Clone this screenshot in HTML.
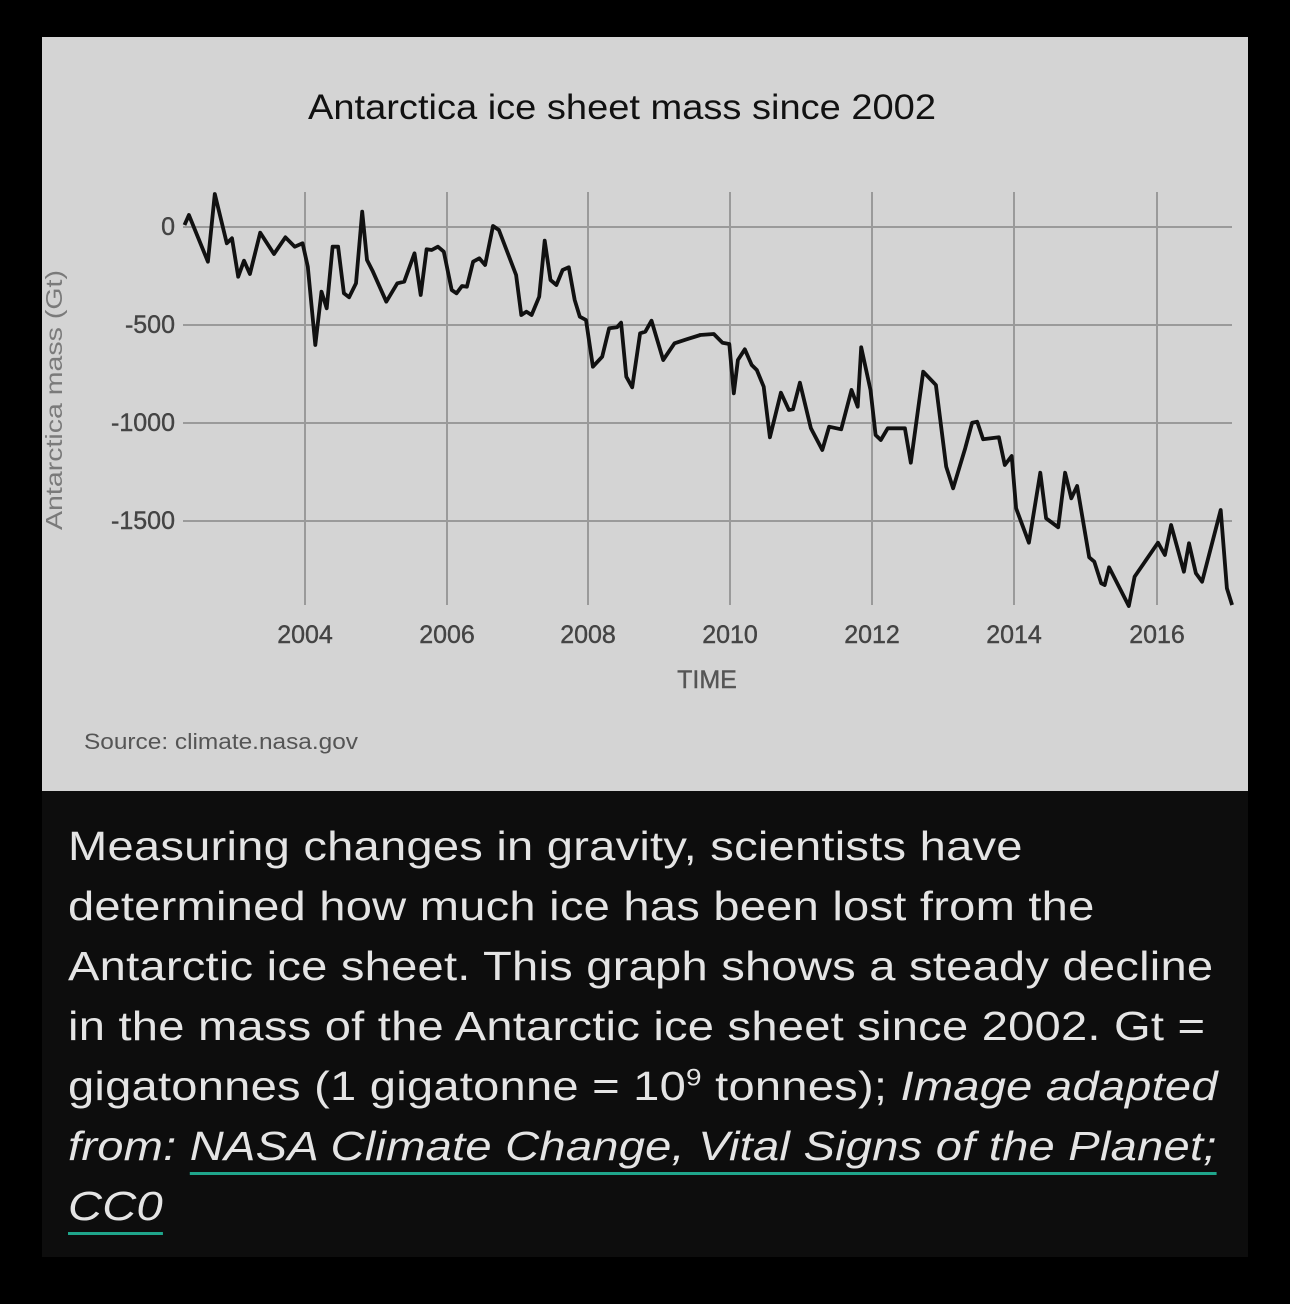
<!DOCTYPE html>
<html><head><meta charset="utf-8"><style>
html,body{margin:0;padding:0;background:#000;}
body{width:1290px;height:1304px;position:relative;overflow:hidden;font-family:"Liberation Sans",sans-serif;}
#panel{position:absolute;left:42px;top:37px;width:1206px;height:1220px;background:#0d0d0d;}
#chart{position:absolute;left:42px;top:37px;width:1206px;height:754px;background:#d4d4d4;}
#cap{position:absolute;left:68px;top:816px;width:1100px;color:#e4e4e4;font-size:40.5px;line-height:60px;letter-spacing:0.2px;transform:scaleX(1.163);transform-origin:0 0;white-space:nowrap;}
#cap i{font-style:italic;}
.u{text-decoration:underline;text-decoration-color:#1fa58b;text-decoration-thickness:3px;text-underline-offset:12px;}
</style></head><body>
<div id="panel"></div>
<div id="chart"></div>
<svg id="sv" width="1290" height="800" style="position:absolute;left:0;top:0">
<text x="308" y="119" textLength="628" lengthAdjust="spacingAndGlyphs" font-family="Liberation Sans, sans-serif" font-size="35" fill="#111">Antarctica ice sheet mass since 2002</text>
<g stroke="#9a9a9a" stroke-width="2">
<line x1="183" y1="227" x2="1232" y2="227"/><line x1="183" y1="325" x2="1232" y2="325"/>
<line x1="183" y1="423" x2="1232" y2="423"/><line x1="183" y1="521" x2="1232" y2="521"/>
<line x1="305" y1="192" x2="305" y2="605"/><line x1="447" y1="192" x2="447" y2="605"/>
<line x1="588" y1="192" x2="588" y2="605"/><line x1="730" y1="192" x2="730" y2="605"/>
<line x1="872" y1="192" x2="872" y2="605"/><line x1="1014" y1="192" x2="1014" y2="605"/>
<line x1="1157" y1="192" x2="1157" y2="605"/>
</g>
<g font-family="Liberation Sans, sans-serif" font-size="25" fill="#444" stroke="#444" stroke-width="0.4" text-anchor="end">
<text x="175" y="235">0</text><text x="175" y="333">-500</text><text x="175" y="431">-1000</text><text x="175" y="529">-1500</text>
</g>
<g font-family="Liberation Sans, sans-serif" font-size="25" fill="#444" stroke="#444" stroke-width="0.4" text-anchor="middle">
<text x="305" y="643">2004</text><text x="447" y="643">2006</text><text x="588" y="643">2008</text><text x="730" y="643">2010</text><text x="872" y="643">2012</text><text x="1014" y="643">2014</text><text x="1157" y="643">2016</text>
<text x="707" y="688" fill="#555" stroke="#555">TIME</text>
</g>
<text x="-530" y="0" transform="translate(62,0) rotate(-90)" textLength="260" lengthAdjust="spacingAndGlyphs" font-family="Liberation Sans, sans-serif" font-size="23" fill="#7a7a7a">Antarctica mass (Gt)</text>
<text x="84" y="749" textLength="274" lengthAdjust="spacingAndGlyphs" font-family="Liberation Sans, sans-serif" font-size="22" fill="#555">Source: climate.nasa.gov</text>
<polyline id="pl" fill="none" stroke="#111" stroke-width="3.8" stroke-linejoin="round" points=""/>
</svg>
<div id="cap">Measuring changes in gravity, scientists have<br>determined how much ice has been lost from the<br>Antarctic ice sheet. This graph shows a steady decline<br>in the mass of the Antarctic ice sheet since 2002. Gt =<br>gigatonnes (1 gigatonne = 10<sup style="font-size:24px;line-height:0">9</sup> tonnes); <i>Image adapted<br>from: <span class="u">NASA Climate Change, Vital Signs of the Planet;</span><br><span class="u">CC0</span></i></div>
<script>
var a=[[42,135],[55,105],[110,245],[130,42],[165,190],[180,175],[198,290],[215,242],[232,282],[262,158],[302,222],[335,172],[362,200],[385,190],[400,260],[422,495],[440,335],[455,385],[472,200],[488,200],[505,340],[520,352],[540,310],[558,95],[572,240],[588,272],[628,365],[660,310],[680,305],[710,220],[728,345],[745,208],[760,210],[778,200],[795,215],[818,330],[832,340],[848,318],[862,320],[880,245],[898,235],[915,255],[938,138],[955,150],[1005,285],[1020,405],[1035,395],[1050,405],[1072,350],[1088,182],[1105,300],[1122,315],[1140,270],[1158,262],[1175,360],[1190,410],[1208,420],[1228,560],[1255,530],[1275,445],[1298,442],[1310,428],[1325,590],[1342,622],[1365,460],[1380,455],[1398,422],[1432,540],[1465,490],[1500,478],[1540,465]];
var b=[[0,45],[40,42],[65,68],[85,72],[98,220],[110,120],[130,88],[150,135],[165,150],[185,200],[203,352],[235,218],[258,270],[270,268],[290,188],[322,325],[355,390],[375,320],[410,328],[440,210],[458,260],[468,82],[495,210],[510,345],[525,360],[545,325],[595,325],[612,428],[648,155],[685,195],[715,440],[735,505],[770,385],[790,308],[805,305],[822,358],[868,352],[885,435],[905,408],[918,565],[955,668],[988,458],[1005,595],[1040,622],[1060,458],[1078,535],[1095,498],[1130,712],[1145,725],[1165,790],[1175,795],[1188,742],[1245,858],[1262,770],[1330,668],[1350,705],[1368,615],[1405,755],[1420,670],[1440,760],[1458,785],[1512,570],[1530,805],[1545,855]];
var s=1568/540,p=[];
a.forEach(function(q){p.push((170+q[0]/s).toFixed(1)+","+(180+q[1]/3).toFixed(1));});
b.forEach(function(q){p.push((700+q[0]/s).toFixed(1)+","+(320+q[1]/3).toFixed(1));});
document.getElementById("pl").setAttribute("points",p.join(" "));
</script>
</body></html>
